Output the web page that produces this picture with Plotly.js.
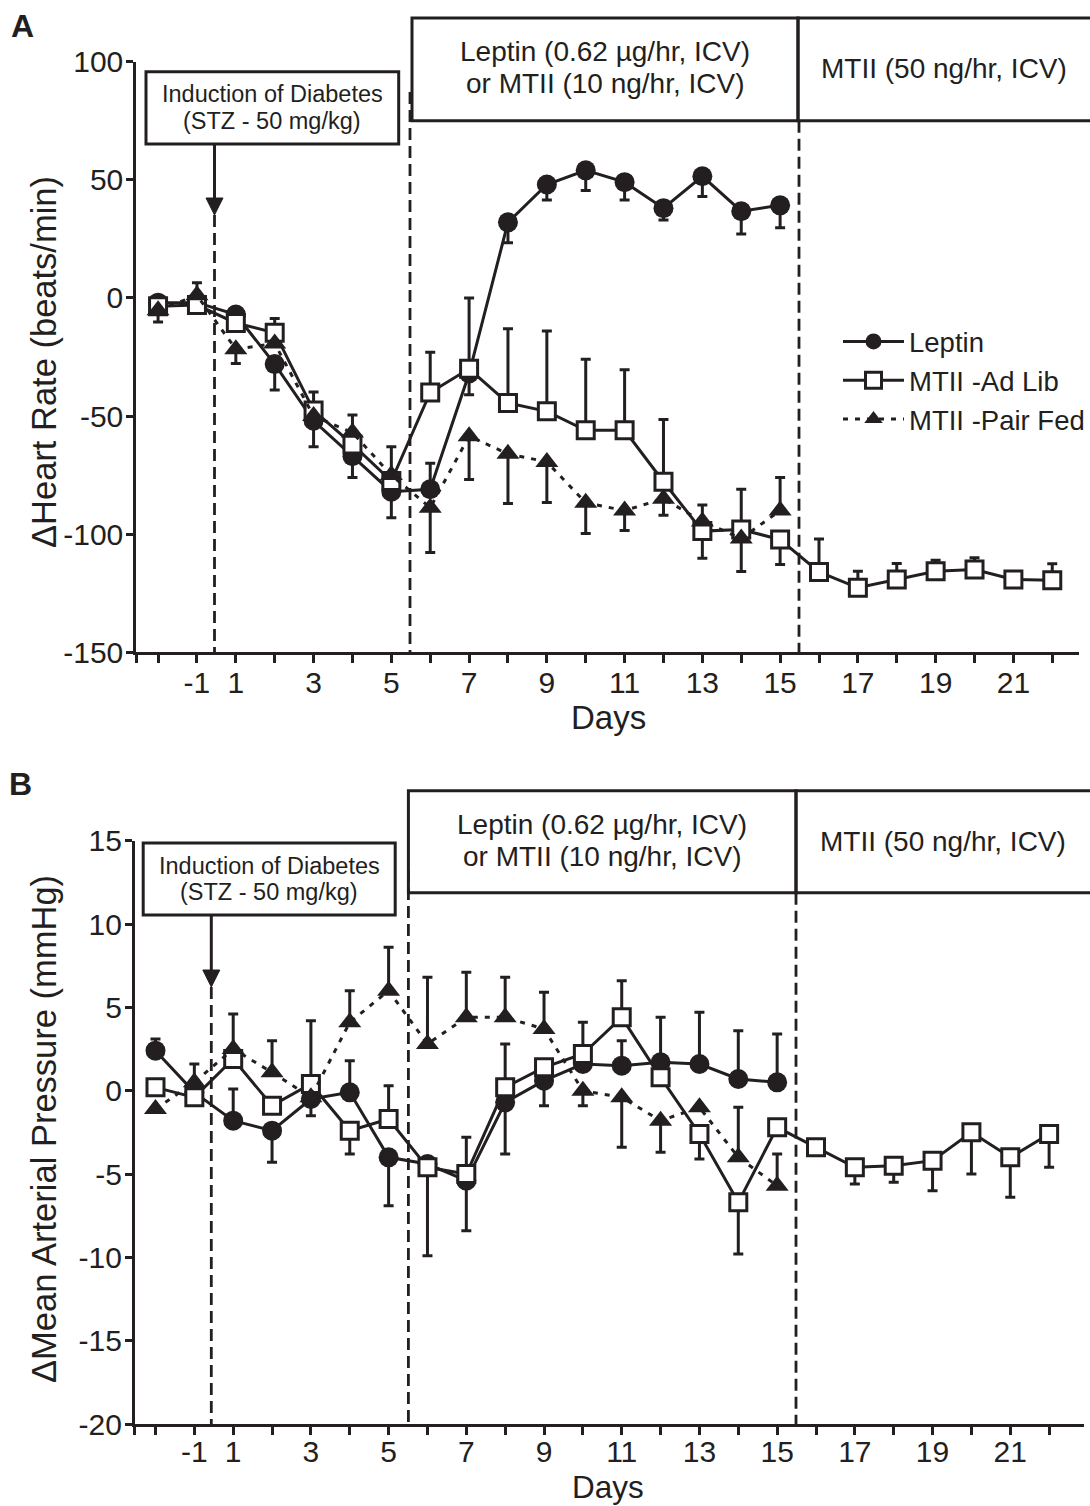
<!DOCTYPE html>
<html><head><meta charset="utf-8">
<script src="https://cdn.plot.ly/plotly-3.0.1.min.js"></script>
<style>html,body{margin:0;padding:0;background:#fff}</style>
</head><body>
<div id="chart" style="width:1090px;height:1506px"></div>
<script>
// ---------- DATA ----------
const days = [-2,-1,1,2,3,4,5,6,7,8,9,10,11,12,13,14,15,16,17,18,19,20,21,22];
const labelledDays = [-1,1,3,5,7,9,11,13,15,17,19,21];
const seriesNames = ['Leptin','MTII -Ad Lib','MTII -Pair Fed'];

// Panel A: change in heart rate (beats/min)
const hrLeptin      = [-2,-2,-7,-28,-52,-67,-82,-81,-32,32,48,54,49,38,51.5,36.7,39.2];
const hrLeptinUp    = [3,null,3,null,null,null,null,11,null,null,null,null,null,null,null,null,null];
const hrLeptinDown  = [null,null,null,11,11,9,11,null,9,8.6,6.5,8.5,7.5,5,8.6,9.6,9.5];
const hrAdLib       = [-3.5,-3,-10.6,-14.7,-47.6,-62,-77.5,-40,-30,-44.5,-48,-56,-56,-77.8,-98.7,-98,-102.3,-116,-122.7,-119.2,-115.7,-115,-119.2,-119.5];
const hrAdLibUp     = [null,null,null,6,7.8,null,14.5,17,30,31.5,34,30,25.6,26.3,null,17,null,14,7,6.8,4.7,5,null,7];
const hrAdLibDown   = [null,null,null,null,null,null,null,null,null,null,null,null,null,null,11.5,null,10.5,null,null,null,null,null,null,null];
const hrPairFed     = [-5.2,1.1,-21.7,-19.3,-50,-57,-75,-88.8,-58.5,-66,-69.4,-86.7,-90,-85,-94.6,-101.8,-90];
const hrPairFedUp   = [null,5.3,null,null,null,7.5,null,null,null,null,null,null,null,null,7,null,14];
const hrPairFedDown = [5,null,6,null,null,null,null,19,18.4,21,17.2,13,8.4,7,null,14,null];

// Panel B: change in mean arterial pressure (mmHg)
const mapLeptin      = [2.4,-0.1,-1.8,-2.4,-0.5,-0.1,-4.0,-4.4,-5.4,-0.7,0.6,1.6,1.5,1.7,1.6,0.7,0.5];
const mapLeptinUp    = [0.7,null,1.9,null,null,1.9,null,null,null,null,null,null,1.5,2.7,3.1,2.9,2.9];
const mapLeptinDown  = [null,null,null,1.9,null,null,2.9,null,3.0,3.1,1.5,null,null,null,null,null,null];
const mapAdLib       = [0.2,-0.4,1.9,-0.9,0.4,-2.4,-1.7,-4.6,-5.0,0.2,1.4,2.2,4.4,0.8,-2.6,-6.7,-2.2,-3.4,-4.6,-4.5,-4.2,-2.5,-4.0,-2.6];
const mapAdLibUp     = [null,null,null,null,3.8,null,2.0,null,2.2,2.6,null,1.9,2.2,null,null,null,null,null,null,null,null,null,null,null];
const mapAdLibDown   = [null,null,null,null,null,1.4,null,5.3,null,null,null,null,null,null,1.5,3.1,null,null,1.0,1.0,1.8,2.5,2.4,2.0];
const mapPairFed     = [-1.1,0.5,2.5,1.1,-0.4,4.1,6.0,2.8,4.4,4.4,3.7,0.0,-0.4,-1.8,-1.0,-4.0,-5.7];
const mapPairFedUp   = [null,1.1,2.1,1.9,null,1.9,2.6,4.0,2.7,2.4,2.2,null,null,null,null,3.0,1.9];
const mapPairFedDown = [null,null,null,null,1.1,null,null,null,null,null,null,0.9,3.0,1.9,null,null,null];

const hrTicks  = [-150,-100,-50,0,50,100];
const mapTicks = [-20,-15,-10,-5,0,5,10,15];

// ---------- HELPERS ----------
const W = 1090, H = 1506;
const INK = '#231f20';
const FONT = 'Liberation Sans, Arial, Helvetica, sans-serif';
const px = v => v / W;
const py = v => 1 - v / H;
const pos = days.map((d, i) => i);            // equally spaced day slots
const toNaN = a => a.map(v => (v === null ? NaN : v));

const markerStyles = {
  'Leptin':         {symbol:'circle', size:20, color:INK, line:{width:0}},
  'MTII -Ad Lib':   {symbol:'square', size:17, color:'#ffffff', line:{color:INK, width:3}},
  'MTII -Pair Fed': {symbol:'triangle-up', size:20, color:INK, line:{width:0}}
};

function series(vals, up, down, name, xa, ya, legend) {
  const n = vals.length;
  return {
    type:'scatter', mode:'lines+markers', name:name,
    x: pos.slice(0, n), y: vals,
    xaxis: xa, yaxis: ya,
    showlegend: legend,
    line: {color: INK, width: 3, dash: name === 'MTII -Pair Fed' ? '5px,7px' : 'solid'},
    marker: markerStyles[name],
    error_y: {type:'data', symmetric:false, array: toNaN(up), arrayminus: toNaN(down),
              color: INK, thickness: 3, width: 5},
    cliponaxis: false,
    hoverinfo: 'skip'
  };
}

const traces = [
  series(hrLeptin, hrLeptinUp, hrLeptinDown, seriesNames[0], 'x', 'y', true),
  series(hrAdLib, hrAdLibUp, hrAdLibDown, seriesNames[1], 'x', 'y', true),
  series(hrPairFed, hrPairFedUp, hrPairFedDown, seriesNames[2], 'x', 'y', true),
  series(mapLeptin, mapLeptinUp, mapLeptinDown, seriesNames[0], 'x2', 'y2', false),
  series(mapAdLib, mapAdLibUp, mapAdLibDown, seriesNames[1], 'x2', 'y2', false),
  series(mapPairFed, mapPairFedUp, mapPairFedDown, seriesNames[2], 'x2', 'y2', false)
];

function xAxis(rangeLo, rangeHi, domLo, domHi, anchor, standoff) {
  const vals = [rangeLo].concat(pos);
  const txt = [''].concat(days.map(d => labelledDays.includes(d) ? String(d) : ''));
  return {
    domain: [px(domLo), px(domHi)], range: [rangeLo, rangeHi], anchor: anchor,
    showline: true, linewidth: 3, linecolor: INK, mirror: false,
    ticks: 'outside', ticklen: 8, tickwidth: 3, tickcolor: INK,
    tickmode: 'array', tickvals: vals, ticktext: txt,
    ticklabelstandoff: standoff,
    tickfont: {size: 30, family: FONT, color: INK},
    showgrid: false, zeroline: false, fixedrange: true
  };
}
function yAxis(range, ticks, topPx, botPx, anchor) {
  return {
    domain: [py(botPx), py(topPx)], range: range, anchor: anchor,
    showline: true, linewidth: 3, linecolor: INK,
    ticks: 'outside', ticklen: 7, tickwidth: 3, tickcolor: INK,
    tickmode: 'array', tickvals: ticks, ticktext: ticks.map(String),
    ticklabelstandoff: -3,
    tickfont: {size: 30, family: FONT, color: INK},
    showgrid: false, zeroline: false, fixedrange: true
  };
}

// ---------- DECORATIONS ----------
const shapes = [];
const ann = [];
function rect(x0, x1, y0, y1) {
  shapes.push({type:'rect', xref:'paper', yref:'paper', x0:px(x0), x1:px(x1), y0:py(y1), y1:py(y0),
               line:{color:INK, width:3}, fillcolor:'rgba(0,0,0,0)'});
}
function vline(x, y0, y1, dashed) {
  shapes.push({type:'line', xref:'paper', yref:'paper', x0:px(x), x1:px(x), y0:py(y0), y1:py(y1),
               line:{color:INK, width: dashed ? 2.8 : 3, dash: dashed ? '12px,6px' : 'solid'}});
}
function arrowHead(x, yBase, yTip) {
  shapes.push({type:'path', xref:'paper', yref:'paper',
    path: `M${px(x-8.5)},${py(yBase)} L${px(x+8.5)},${py(yBase)} L${px(x)},${py(yTip)} Z`,
    fillcolor: INK, line:{color:INK, width:1}});
}
function text(t, x, y, size, opts) {
  ann.push(Object.assign({text:t, xref:'paper', yref:'paper', x:px(x), y:py(y), showarrow:false,
    xanchor:'center', yanchor:'middle', borderpad:0, font:{size:size, family:FONT, color:INK}}, opts || {}));
}

function panelDecor(o) {
  // induction box + arrow
  rect(o.indL, o.indR, o.indT, o.indB);
  text('Induction of Diabetes', (o.indL + o.indR) / 2, o.indT + 22.5, 23.5);
  text('(STZ - 50 mg/kg)', (o.indL + o.indR) / 2, o.indT + 49, 23.5);
  vline(o.arX, o.indB, o.arTip - 14, false);
  arrowHead(o.arX, o.arTip - 17, o.arTip);
  vline(o.arX, o.arTip, o.axisBot, true);
  // treatment boxes
  rect(o.bL, o.bM, o.bT, o.bB);
  rect(o.bM, 1100, o.bT, o.bB);
  text('Leptin (0.62 µg/hr, ICV)', (o.bL + o.bM) / 2, o.bT + 34, 28);
  text('or MTII (10 ng/hr, ICV)', (o.bL + o.bM) / 2, o.bT + 66, 28);
  text('MTII (50 ng/hr, ICV)', o.mtX, o.bT + 50.5, 28);
  vline(o.d2X, o.d2Top, o.axisBot, true);
  vline(o.d3X, o.bB, o.axisBot, true);
}

panelDecor({indL:146, indR:398.7, indT:71.7, indB:144, arX:214.5, arTip:215, axisBot:652,
            bL:412, bM:798, bT:18, bB:120.7, mtX:944, d2X:410, d2Top:92, d3X:799});
panelDecor({indL:143.2, indR:395.2, indT:843, indB:915, arX:211.3, arTip:987, axisBot:1424,
            bL:408.4, bM:796, bT:790.7, bB:892.7, mtX:942.5, d2X:408.4, d2Top:870, d3X:796});

// panel letters
text('<b>A</b>', 22, 26, 32);
text('<b>B</b>', 20, 784, 32);
// axis titles
text('ΔHeart Rate (beats/min)', 44, 362, 34.5, {textangle:-90});
text('ΔMean Arterial Pressure (mmHg)', 44, 1129, 34.5, {textangle:-90});
text('Days', 608, 717, 33);
text('Days', 608, 1487, 31.5);

const layout = {
  width: W, height: H,
  margin: {l:0, r:0, t:0, b:0},
  paper_bgcolor: '#ffffff', plot_bgcolor: 'rgba(0,0,0,0)',
  font: {family: FONT, color: INK},
  showlegend: true,
  legend: {x: px(838), y: py(317), xanchor:'left', yanchor:'top',
           font: {size: 27.5, family: FONT, color: INK},
           bgcolor: 'rgba(0,0,0,0)', borderwidth: 0,
           traceorder: 'normal', tracegroupgap: 0, itemwidth: 61},
  xaxis: xAxis(-0.56, 23.68, 136.3, 1078.7, 'y', -6),
  yaxis: yAxis([-150, 100], hrTicks, 61.7, 652.3, 'x'),
  xaxis2: xAxis(-0.53, 23.89, 134.9, 1083.7, 'y2', -9),
  yaxis2: yAxis([-20, 15], mapTicks, 840.7, 1424, 'x2'),
  shapes: shapes,
  annotations: ann
};

Plotly.newPlot('chart', traces, layout, {staticPlot: true, displayModeBar: false});
</script>
</body></html>
